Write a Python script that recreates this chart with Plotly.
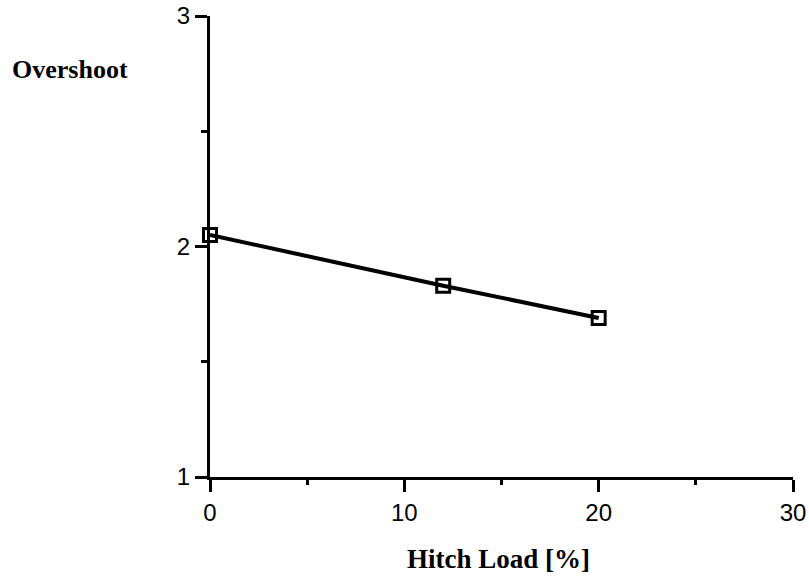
import plotly.graph_objects as go

hitch_load = [0, 12, 20]
overshoot = [2.05, 1.83, 1.69]
x_tickvals = [0, 10, 20, 30]
y_tickvals = [1, 2, 3]

fig = go.Figure()
fig.add_trace(go.Scatter(
    x=hitch_load, y=overshoot, mode="lines+markers",
    line=dict(color="black", width=4, shape="spline"),
    marker=dict(symbol="square-open", size=13, color="black", line=dict(width=3, color="black")),
    showlegend=False, cliponaxis=False,
))

tickfont = dict(family="Liberation Sans, Arial, sans-serif", size=24, color="black")
fig.update_layout(
    width=809, height=578,
    margin=dict(l=210, r=16, t=16, b=101),
    paper_bgcolor="white", plot_bgcolor="white",
    xaxis=dict(range=[0, 30], tickvals=x_tickvals, ticktext=[str(v) for v in x_tickvals],
               automargin=False,
               showgrid=False, zeroline=False, showline=True, linecolor="black", linewidth=3,
               ticks="outside", ticklen=12, tickwidth=3, tickcolor="black", tickfont=tickfont,
               minor=dict(dtick=5, ticks="outside", ticklen=5, tickwidth=3, tickcolor="black", showgrid=False)),
    yaxis=dict(range=[1, 3], tickvals=y_tickvals, ticktext=[str(v) for v in y_tickvals],
               automargin=False,
               showgrid=False, zeroline=False, showline=True, linecolor="black", linewidth=3,
               ticks="outside", ticklen=12, tickwidth=3, tickcolor="black", tickfont=tickfont,
               minor=dict(dtick=0.5, ticks="outside", ticklen=6, tickwidth=3, tickcolor="black", showgrid=False)),
    annotations=[
        dict(text="<b>Overshoot</b>", xref="paper", yref="paper", x=-0.343, y=0.883,
             xanchor="left", yanchor="middle", showarrow=False,
             font=dict(family="Liberation Serif, Times New Roman, serif", size=26, color="black")),
        dict(text="<b>Hitch Load [%]</b>", xref="paper", yref="paper", x=0.494, y=-0.178,
             xanchor="center", yanchor="middle", showarrow=False,
             font=dict(family="Liberation Serif, Times New Roman, serif", size=27, color="black")),
    ],
)
fig.write_html("out.html")
